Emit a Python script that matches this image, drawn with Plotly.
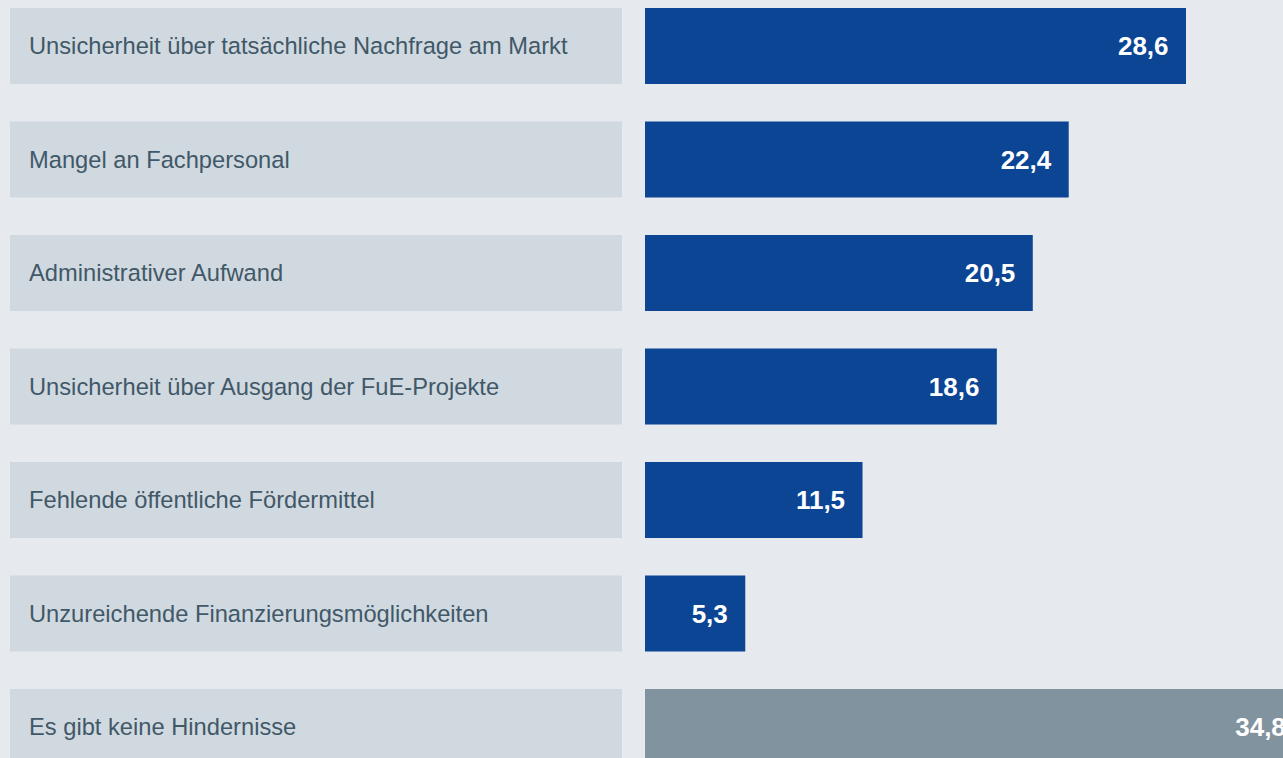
import plotly.graph_objects as go

categories = [
    "Unsicherheit über tatsächliche Nachfrage am Markt",
    "Mangel an Fachpersonal",
    "Administrativer Aufwand",
    "Unsicherheit über Ausgang der FuE-Projekte",
    "Fehlende öffentliche Fördermittel",
    "Unzureichende Finanzierungsmöglichkeiten",
    "Es gibt keine Hindernisse",
]
values = [28.6, 22.4, 20.5, 18.6, 11.5, 5.3, 34.8]
value_labels = ["28,6", "22,4", "20,5", "18,6", "11,5", "5,3", "34,8"]
bar_colors = ["#0b4594"] * 6 + ["#8293a0"]

W, H = 1283, 758
BG = "#e6e9ee"
BOX = "#d1d9e0"
TXT = "#415868"
FONT = "Liberation Sans, Arial, sans-serif"

pos = list(range(len(categories)))

fig = go.Figure()

# label boxes
fig.add_trace(go.Bar(
    y=pos, x=[1] * len(pos), orientation="h",
    xaxis="x2", yaxis="y",
    marker=dict(color=BOX, line=dict(width=0)),
    width=0.67, hoverinfo="skip", showlegend=False,
))

# value bars
fig.add_trace(go.Bar(
    y=pos, x=values, orientation="h",
    xaxis="x", yaxis="y",
    marker=dict(color=bar_colors, line=dict(width=0)),
    width=0.67, showlegend=False,
    text=["<b>" + t + "</b>\u00a0\u00a0" for t in value_labels],
    textposition="inside", insidetextanchor="end",
    textfont=dict(family=FONT, size=26, color="white"),
    constraintext="none", cliponaxis=True,
    hovertext=categories, hoverinfo="text+x",
))

annotations = []
for i, c in enumerate(categories):
    annotations.append(dict(
        x=27 / W, xref="paper", y=i, yref="y", text=c, showarrow=False,
        xanchor="left", yanchor="middle",
        font=dict(family=FONT, size=23.7, color=TXT),
    ))

px_per_unit = (1186 - 645) / 28.6
pitch = 113.5
c0 = 46

fig.update_layout(
    width=W, height=H,
    margin=dict(l=0, r=0, t=0, b=0),
    paper_bgcolor=BG, plot_bgcolor=BG,
    barmode="overlay",
    xaxis=dict(domain=[645 / W, 1], range=[0, (W - 645) / px_per_unit],
               visible=False, fixedrange=True),
    xaxis2=dict(domain=[10 / W, 622 / W], range=[0, 1], visible=False,
                fixedrange=True, anchor="y"),
    yaxis=dict(domain=[0, 1], range=[(H - c0) / pitch, -c0 / pitch],
               visible=False, fixedrange=True),
    annotations=annotations,
)

fig.write_html("out.html", config={"displayModeBar": False},
               post_script="document.body.style.margin='0';document.body.style.background='" + BG + "';")
